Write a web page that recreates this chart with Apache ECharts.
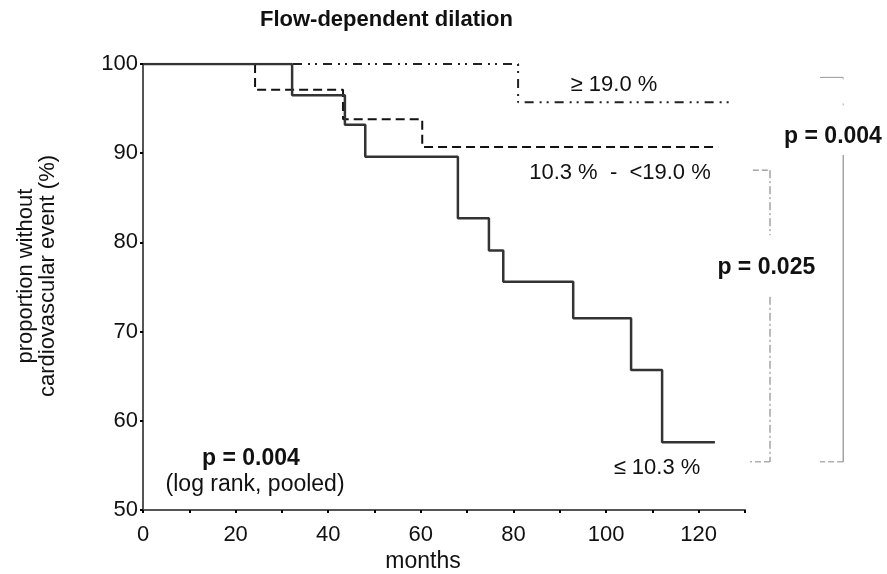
<!DOCTYPE html>
<html>
<head>
<meta charset="utf-8">
<script src="https://cdn.jsdelivr.net/npm/echarts@6/dist/echarts.min.js"></script>
<style>html,body{margin:0;padding:0;background:#fff}#c{width:887px;height:574px}</style>
</head>
<body>
<div id="c"></div>
<script>
// Kaplan-Meier step data (months, % without event)
var lowTimes  = [0, 32.2, 43.6, 48.0, 68.0, 74.7, 77.8, 92.9, 105.4, 112.1, 123.5];
var lowSurv   = [100, 96.5, 93.2, 89.6, 82.7, 79.1, 75.6, 71.5, 65.7, 57.6, 57.6];
var midTimes  = [0, 24.2, 43.2, 60.3, 124.2];
var midSurv   = [100, 97.1, 93.8, 90.7, 90.7];
var highTimes = [0, 81.0, 126.8];
var highSurv  = [100, 95.7, 95.7];
var xTicks = [0, 20, 40, 60, 80, 100, 120];
var yTicks = [50, 60, 70, 80, 90, 100];
var groupLabels = ['\u2265 19.0 %', '10.3 %  -  <19.0 %', '\u2264 10.3 %'];

function pairs(t, s){ return t.map(function(v,i){ return [v, s[i]]; }); }

var FONT = '"Liberation Sans", Arial, sans-serif';
var chart = echarts.init(document.getElementById('c'), null, {renderer:'canvas'});
chart.setOption({
  animation:false,
  backgroundColor:'#fff',
  grid:{left:143, right:142, top:64, bottom:64},
  xAxis:{type:'value', min:0, max:130, interval:10,
    axisLine:{lineStyle:{color:'#555', width:2}},
    axisTick:{length:3, lineStyle:{color:'#000', width:2}},
    axisLabel:{margin:14, fontFamily:FONT, fontSize:22, color:'#111',
      formatter:function(v){ return xTicks.indexOf(v) >= 0 ? String(v) : ''; }},
    splitLine:{show:false}},
  yAxis:{type:'value', min:50, max:100, interval:10,
    axisLine:{show:true, lineStyle:{color:'#555', width:2}},
    axisTick:{show:true, length:3, lineStyle:{color:'#000', width:2}},
    axisLabel:{margin:5, fontFamily:FONT, fontSize:22, color:'#111',
      formatter:function(v){ return yTicks.indexOf(v) >= 0 ? String(v) : ''; }},
    splitLine:{show:false}},
  series:[
    {type:'line', step:'end', symbol:'none', data:pairs(highTimes, highSurv),
     lineStyle:{color:'#222', width:2, type:[9,6,2,5,2,6]}},
    {type:'line', step:'end', symbol:'none', data:pairs(midTimes, midSurv),
     lineStyle:{color:'#111', width:2, type:[9,5]}},
    {type:'line', step:'end', symbol:'none', data:pairs(lowTimes, lowSurv),
     lineStyle:{color:'#333', width:2.5}}
  ]
});

function P(x, y){ return chart.convertToPixel({gridIndex:0}, [x, y]); }
function txt(x, y, s, opt){
  var p = P(x, y); opt = opt || {};
  return {type:'text', x:p[0], y:p[1], style:{text:s, fill:'#111', font:(opt.bold?'bold ':'') + (opt.size||22) + 'px ' + FONT,
    textAlign:opt.align||'center', textVerticalAlign:'middle'}};
}
function seg(x1, y1, x2, y2, dash, color, w){
  var a = P(x1, y1), b = P(x2, y2);
  return {type:'line', shape:{x1:a[0], y1:a[1], x2:b[0], y2:b[1]},
    style:{stroke:color||'#888', lineWidth:w||1, lineDash:dash||null}};
}
var els = [];
// title
els.push({type:'text', x:260, y:20, style:{text:'Flow-dependent dilation', fill:'#111', font:'bold 22px ' + FONT, textAlign:'left', textVerticalAlign:'middle'}});
// y axis name (rotated two lines)
els.push({type:'text', x:37, y:276, rotation:Math.PI/2, style:{text:'proportion without\ncardiovascular event (%)', fill:'#111', font:'22px ' + FONT, textAlign:'center', textVerticalAlign:'middle', lineHeight:22}});
// x axis name
els.push({type:'text', x:423, y:562, style:{text:'months', fill:'#111', font:'23px ' + FONT, textAlign:'center', textVerticalAlign:'middle'}});
// group labels
els.push(txt(101.7, 97.6, groupLabels[0]));
els.push(txt(103.0, 87.8, groupLabels[1]));
els.push(txt(111.0, 54.7, groupLabels[2]));
// pooled p
els.push(txt(23.3, 55.7, 'p = 0.004', {bold:true, size:23}));
els.push(txt(24.2, 52.8, '(log rank, pooled)', {size:23}));
// brackets
els.push(seg(146.2, 98.5, 151.2, 98.5, null, '#999', 1));
els.push(seg(151.2, 98.5, 151.2, 93.8, [2,24], '#aaa', 1));
els.push(seg(151.2, 89.8, 151.2, 55.4, null, '#777', 1));
els.push(seg(151.2, 55.4, 146.2, 55.4, [6,3], '#888', 1));
els.push(txt(149.0, 91.8, 'p = 0.004', {bold:true, size:23}));
els.push(seg(131.7, 88.1, 135.4, 88.1, [6,3], '#777', 1));
els.push(seg(135.4, 88.1, 135.4, 80.8, [8,3,2,3], '#777', 1));
els.push(seg(135.4, 73.9, 135.4, 55.4, [8,3,2,3], '#777', 1));
els.push(seg(135.4, 55.4, 131.1, 55.4, [6,3], '#888', 1));
els.push(txt(134.6, 77.2, 'p = 0.025', {bold:true, size:23}));
chart.setOption({graphic:{elements:els}});
</script>
</body>
</html>
